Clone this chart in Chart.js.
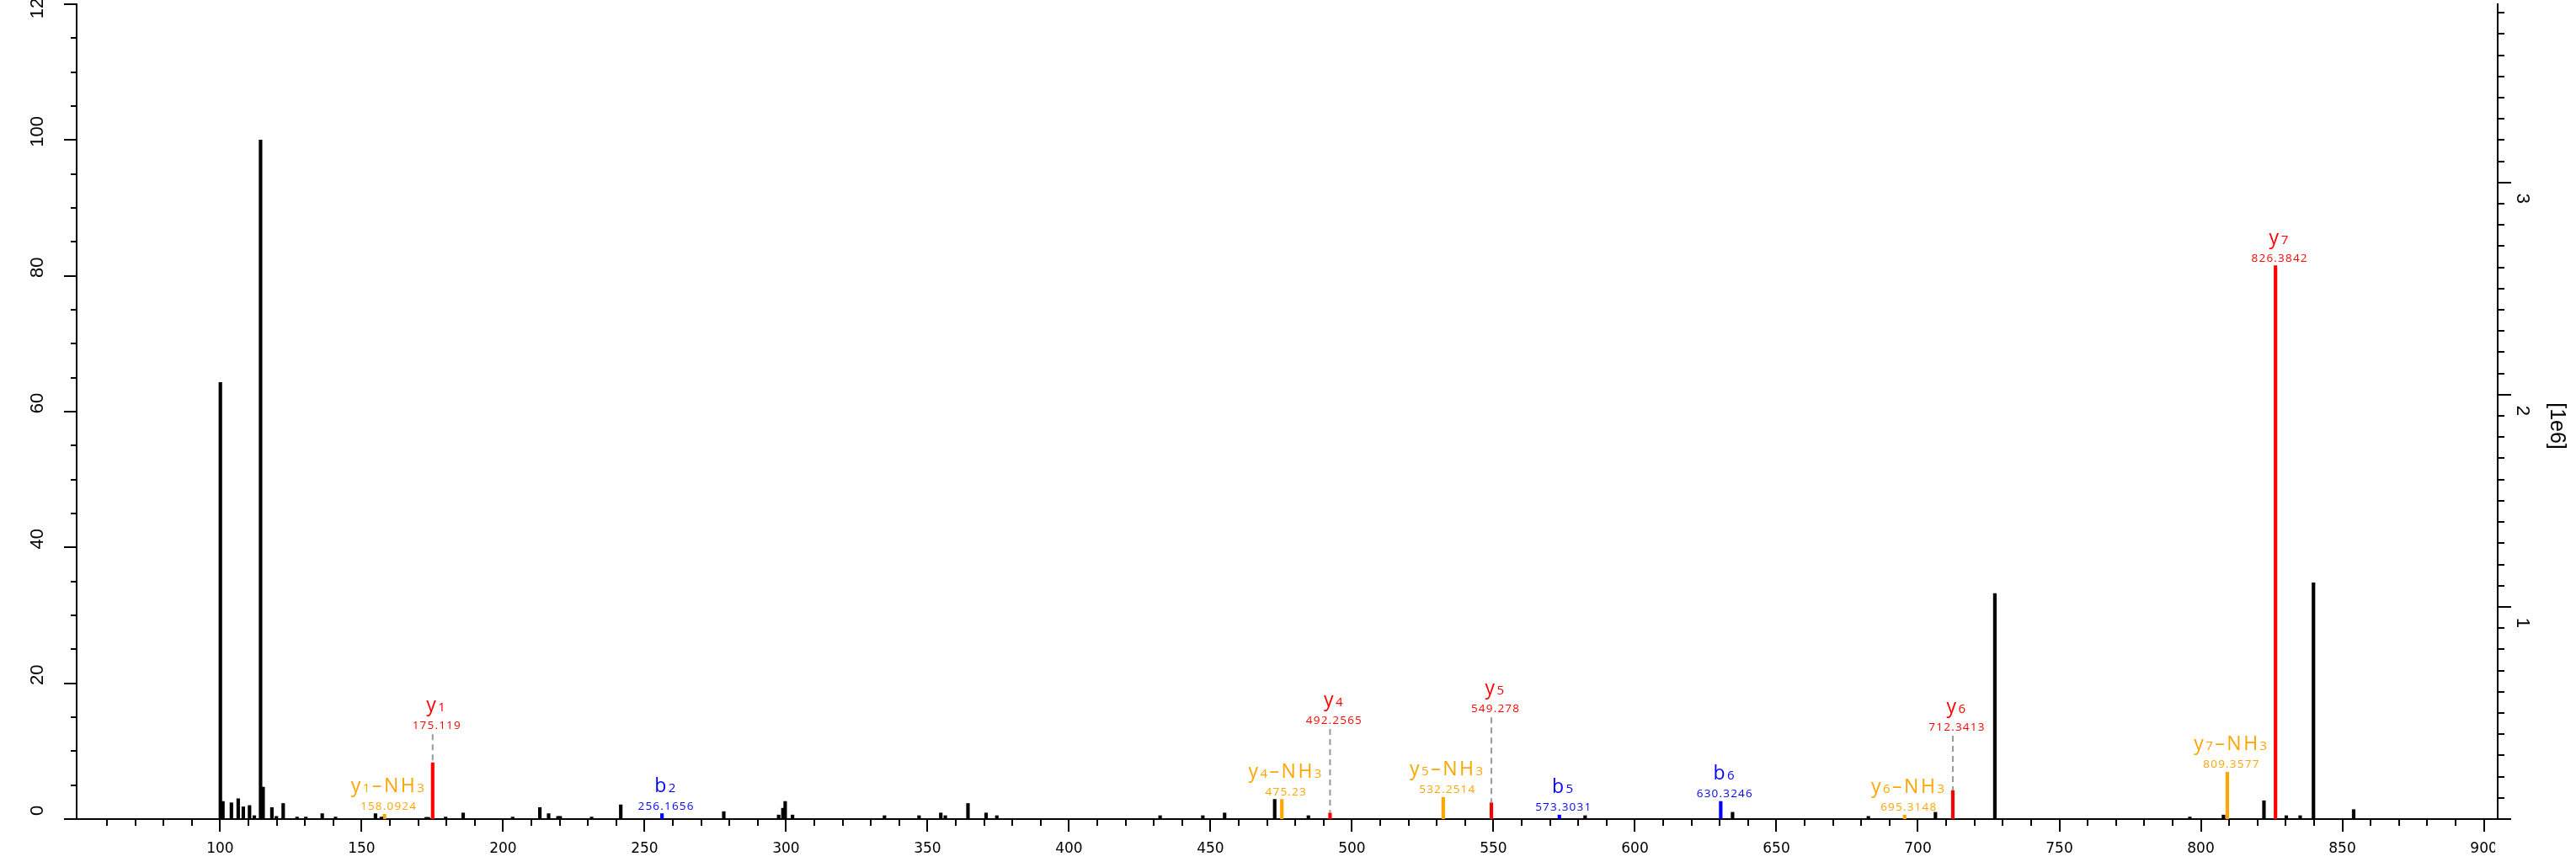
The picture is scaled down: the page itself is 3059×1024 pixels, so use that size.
<!DOCTYPE html>
<html>
<head>
<meta charset="utf-8">
<script src="https://cdn.jsdelivr.net/npm/chart.js@4.4.1/dist/chart.umd.min.js"></script>
<style>
  html, body { margin: 0; padding: 0; background: #fff; }
  #wrap { width: 3059px; height: 1024px; position: relative; }
</style>
</head>
<body>
<div id="wrap"><canvas id="spectrum"></canvas></div>
<script>
// unassigned peaks (m/z, relative intensity %)
const peakMz = [
  100.1, 101.0, 104.0, 106.4, 108.2, 110.4, 112.1, 114.3, 115.2, 118.3,
  119.9, 122.3, 127.2, 130.3, 136.1, 140.8, 154.9, 157.0, 172.8, 173.6,
  179.7, 185.9, 203.4, 213.0, 216.1, 219.4, 220.2, 231.3, 241.6, 278.0,
  297.4, 298.9, 299.7, 302.3, 334.8, 347.0, 354.7, 356.3, 364.3, 370.7,
  374.5, 432.2, 447.3, 455.0, 472.7, 484.6, 582.4, 634.5, 682.5, 706.2,
  727.2, 796.1, 808.0, 822.3, 830.2, 835.1, 839.8, 854.0
];
const peakInt = [
  64.3, 2.6, 2.4, 3.0, 1.8, 2.0, 0.5, 100, 4.7, 1.7,
  0.4, 2.3, 0.3, 0.3, 0.8, 0.3, 0.8, 0.3, 0.25, 0.25,
  0.3, 0.9, 0.3, 1.7, 0.8, 0.4, 0.4, 0.3, 2.1, 1.1,
  0.6, 1.6, 2.6, 0.6, 0.5, 0.5, 0.9, 0.5, 2.3, 0.9,
  0.5, 0.5, 0.5, 0.9, 2.9, 0.5, 0.5, 1.0, 0.4, 1.0,
  33.2, 0.3, 0.6, 2.7, 0.5, 0.5, 34.8, 1.4
];

// annotated fragment ions
const ionName = ['y1-NH3', 'y1', 'b2', 'y4-NH3', 'y4', 'y5-NH3', 'y5', 'b5', 'b6', 'y6-NH3', 'y6', 'y7-NH3', 'y7'];
const ionMz = [158.0924, 175.119, 256.1656, 475.23, 492.2565, 532.2514, 549.278, 573.3031, 630.3246, 695.3148, 712.3413, 809.3577, 826.3842];
const ionInt = [0.7, 8.3, 0.8, 2.9, 0.9, 3.2, 2.4, 0.6, 2.6, 0.6, 4.2, 6.9, 81.5];
// level (in %) where the m/z text sits; above the peak when a leader line is drawn
const ionLabelLevel = [0.7, 12.6, 0.8, 2.9, 13.4, 3.2, 15.1, 0.6, 2.6, 0.6, 12.4, 6.9, 81.5];

// axes
const xMin = 49.3, xMax = 904.9;
const relMax = 120;
const absMax = 3.84e6;

const ionColors = { y: '#ff0000', b: '#0000ff', loss: '#ffa500' };
function ionColor(name) {
  if (name.indexOf('-') >= 0) return ionColors.loss;
  return name[0] === 'b' ? ionColors.b : ionColors.y;
}

const blackData = peakMz.map((m, i) => ({ x: m, y: peakInt[i] }));
const ionData = ionMz.map((m, i) => ({ x: m, y: ionInt[i] }));

// split "y1-NH3" into normal text and subscript digits
function labelParts(name) {
  const parts = [];
  for (const ch of name.replace('-', '\u2013')) {
    const sub = /[0-9]/.test(ch);
    const last = parts[parts.length - 1];
    if (last && last.sub === sub) last.text += ch;
    else parts.push({ text: ch, sub: sub });
  }
  return parts;
}

const annotationPlugin = {
  id: 'ionLabels',
  afterDatasetsDraw(chart) {
    const ctx = chart.ctx;
    const xs = chart.scales.x, ys = chart.scales.y;
    ctx.save();
    ionName.forEach((name, i) => {
      const px = xs.getPixelForValue(ionMz[i]);
      const top = ys.getPixelForValue(ionInt[i]);
      const numBase = ys.getPixelForValue(ionLabelLevel[i]) - 5;
      const labBase = numBase - 21;
      const col = ionColor(name);
      const cx = px + 5;

      if (ionLabelLevel[i] > ionInt[i] + 1) {
        ctx.save();
        ctx.strokeStyle = '#999';
        ctx.lineWidth = 2;
        ctx.setLineDash([7, 5]);
        ctx.beginPath();
        ctx.moveTo(px, numBase + 6);
        ctx.lineTo(px, top);
        ctx.stroke();
        ctx.restore();
      }

      ctx.fillStyle = col;
      ctx.textBaseline = 'alphabetic';
      ctx.textAlign = 'left';

      // m/z value
      ctx.font = '13.5px "Open Sans"';
      ctx.letterSpacing = '1.2px';
      const num = String(ionMz[i]);
      const nw = ctx.measureText(num).width;
      ctx.fillText(num, cx - nw / 2, numBase);

      // ion name with small digits
      ctx.letterSpacing = '2.5px';
      const parts = labelParts(name);
      let total = 0;
      parts.forEach(p => {
        ctx.font = p.sub ? '15px "Open Sans"' : '23px "Open Sans"';
        p.w = ctx.measureText(p.text).width;
        total += p.w;
      });
      let x = cx - total / 2;
      parts.forEach(p => {
        ctx.font = p.sub ? '15px "Open Sans"' : '23px "Open Sans"';
        ctx.fillText(p.text, x, labBase);
        x += p.w;
      });
    });
    ctx.restore();
  }
};

// tick marks and rotated tick labels
const axisPlugin = {
  id: 'axisTicks',
  afterDraw(chart) {
    const ctx = chart.ctx;
    const area = chart.chartArea;
    const xs = chart.scales.x, ys = chart.scales.y, ys2 = chart.scales.y2;
    ctx.save();
    ctx.strokeStyle = '#000';
    ctx.fillStyle = '#000';
    ctx.lineWidth = 2;

    // bottom
    ctx.beginPath();
    for (let v = 60; v <= 900; v += 10) {
      const px = Math.round(xs.getPixelForValue(v));
      const len = v % 50 === 0 ? 15 : 8;
      ctx.moveTo(px, area.bottom);
      ctx.lineTo(px, area.bottom + len);
    }
    ctx.stroke();
    ctx.save();
    ctx.beginPath();
    ctx.rect(0, 0, area.right - 3, chart.height);
    ctx.clip();
    ctx.font = '17px "DejaVu Sans"';
    ctx.textAlign = 'center';
    ctx.textBaseline = 'middle';
    for (let v = 100; v <= 900; v += 50) {
      ctx.fillText(String(v), xs.getPixelForValue(v), area.bottom + 36);
    }
    ctx.restore();

    // left
    ctx.beginPath();
    for (let v = 0; v <= relMax; v += 5) {
      const py = Math.round(ys.getPixelForValue(v));
      const len = v % 20 === 0 ? 15 : 7;
      ctx.moveTo(area.left, py);
      ctx.lineTo(area.left - len, py);
    }
    ctx.stroke();
    ctx.font = '22px "Liberation Sans Narrow", "Liberation Sans", sans-serif';
    ctx.textAlign = 'center';
    ctx.textBaseline = 'middle';
    for (let v = 0; v <= relMax; v += 20) {
      ctx.save();
      ctx.translate(area.left - 46, Math.max(4, ys.getPixelForValue(v) - 10));
      ctx.rotate(-Math.PI / 2);
      ctx.fillText(String(v), 0, 0);
      ctx.restore();
    }

    // right
    ctx.beginPath();
    for (let i = 0; i * 1e5 <= absMax; i++) {
      const py = Math.round(ys2.getPixelForValue(i * 1e5));
      const len = i % 10 === 0 ? 16 : 8;
      ctx.moveTo(area.right, py);
      ctx.lineTo(area.right + len, py);
    }
    ctx.stroke();
    for (let v = 1; v <= 3; v++) {
      ctx.save();
      ctx.translate(area.right + 29, ys2.getPixelForValue(v * 1e6) + 19);
      ctx.rotate(Math.PI / 2);
      ctx.fillText(String(v), 0, 0);
      ctx.restore();
    }
    ctx.save();
    ctx.font = '25px "Liberation Sans", sans-serif';
    ctx.translate(area.right + 70, 506);
    ctx.rotate(Math.PI / 2);
    ctx.fillText('[1e6]', 0, 0);
    ctx.restore();

    ctx.restore();
  }
};

new Chart(document.getElementById('spectrum'), {
  type: 'bar',
  data: {
    datasets: [
      { data: blackData, backgroundColor: '#000', barThickness: 3.5, grouped: false, yAxisID: 'y' },
      { data: ionData, backgroundColor: ionName.map(ionColor), barThickness: 3.5, grouped: false, yAxisID: 'y' }
    ]
  },
  options: {
    responsive: true,
    maintainAspectRatio: false,
    animation: false,
    layout: { padding: { top: 5, left: 0, right: 0, bottom: 0 } },
    plugins: { legend: { display: false }, tooltip: { enabled: false } },
    scales: {
      x: {
        type: 'linear', min: xMin, max: xMax, position: 'bottom', offset: false,
        grid: { display: false }, ticks: { display: false },
        border: { display: true, color: '#000', width: 2 },
        afterFit: s => { s.height = 51; }
      },
      y: {
        type: 'linear', min: 0, max: relMax, position: 'left',
        grid: { display: false }, ticks: { display: false },
        border: { display: true, color: '#000', width: 2 },
        afterFit: s => { s.width = 91; }
      },
      y2: {
        type: 'linear', min: 0, max: absMax, position: 'right',
        grid: { display: false }, ticks: { display: false },
        border: { display: true, color: '#000', width: 2 },
        afterFit: s => { s.width = 93; }
      }
    }
  },
  plugins: [annotationPlugin, axisPlugin]
});
</script>
</body>
</html>
